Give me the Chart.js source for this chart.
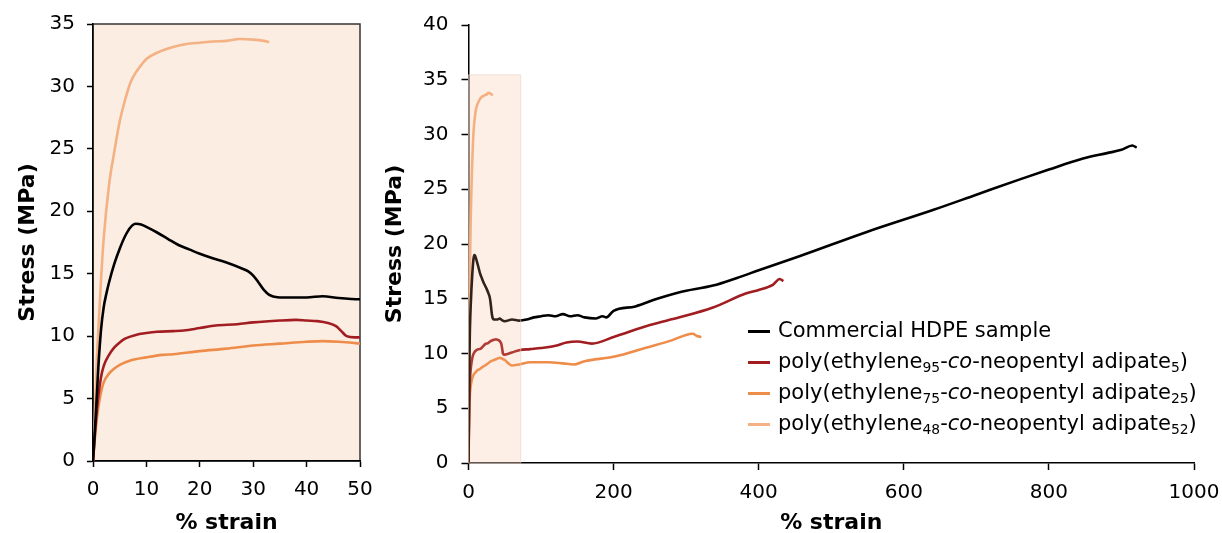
<!DOCTYPE html>
<html>
<head>
<meta charset="utf-8">
<script src="https://cdn.jsdelivr.net/npm/chart.js@4.4.1/dist/chart.umd.min.js"></script>
<style>
  body { margin: 0; background: #fff; overflow: hidden; }
  #leftBox { position: absolute; left: 0; top: 0; width: 380px; height: 536px; }
  #rightBox { position: absolute; left: 380px; top: 0; width: 842px; height: 536px; }
  #legend { position: absolute; left: 748px; top: 315px; font-family: "DejaVu Sans"; font-size: 21px; color: #000; line-height: 31px; }
  #legend .row { white-space: nowrap; }
  #legend .swatch { display: inline-block; width: 22px; height: 3px; vertical-align: middle; margin-right: 8px; }
  #legend sub { font-size: 0.66em; vertical-align: -0.3em; line-height: 0; }
</style>
</head>
<body>
<div id="leftBox"><canvas id="zoomChart"></canvas></div>
<div id="rightBox"><canvas id="fullChart"></canvas></div>
<div id="legend"></div>
<script>
// Stress-strain data (strain in %, stress in MPa)
const hdpeStrain = [0,0.5,1,1.5,2,2.5,3,4,5,6,7,8,9,10,12,14,16,18,20,22,25,28,29,30,31,32,33,34,35,38,40,43,46,50,60,70,80,90,100,110,120,130,140,150,160,175,185,190,200,230,260,291,337,370,400,457,549,640,700,760,800,847,880,900,915,921];
const hdpeStress = [0,3.5,7.5,10.5,12.3,13.4,14.3,15.8,17.0,18.0,18.7,19.0,18.95,18.75,18.3,17.8,17.3,16.95,16.6,16.3,15.9,15.4,15.2,14.85,14.3,13.7,13.3,13.15,13.1,13.1,13.1,13.2,13.05,12.95,13.1,13.0,13.1,13.3,13.4,13.5,13.4,13.6,13.4,13.5,13.3,13.2,13.4,13.3,13.9,14.3,15.0,15.6,16.2,16.9,17.6,18.9,21.1,23.1,24.5,25.9,26.8,27.8,28.3,28.6,29.0,28.8];

const pe95Strain = [0,0.5,1,1.5,2,3,4,5,6,8,10,12,15,17,20,23,27,30,35,38,40,42,44,45.5,46.5,47.5,49,50,60,70,85,100,120,135,150,170,200,250,291,337,383,400,420,429,434];
const pe95Stress = [0,3,5.2,6.7,7.6,8.5,9.1,9.5,9.8,10.1,10.25,10.35,10.4,10.45,10.65,10.85,10.95,11.1,11.25,11.3,11.25,11.2,11.05,10.8,10.4,10.0,9.9,9.9,10.1,10.3,10.4,10.5,10.7,11.0,11.1,10.9,11.5,12.6,13.3,14.2,15.5,15.8,16.3,16.8,16.6];

const pe75Strain = [0,0.5,1,1.5,2,3,4,5,7,10,13,15,20,25,30,35,40,43,46,50,55,60,70,85,110,130,145,160,200,246,280,300,309,315,321];
const pe75Stress = [0,2.5,4.3,5.5,6.3,7.0,7.4,7.7,8.05,8.3,8.5,8.55,8.8,9.0,9.25,9.4,9.55,9.6,9.55,9.4,9.1,8.9,9.0,9.2,9.2,9.1,9.0,9.3,9.7,10.55,11.2,11.7,11.8,11.6,11.5];

const pe48Strain = [0,0.3,0.6,1,1.5,2,3,4,5,6,7,8,9,10,12,15,17.5,20,22.5,25,27.5,30,32,33];
const pe48Stress = [0,3,6.9,10.5,14.5,17.8,22.1,24.8,27.2,28.9,30.3,31.1,31.7,32.2,32.7,33.15,33.4,33.5,33.6,33.65,33.8,33.75,33.65,33.55];

// copolymer compositions (mol %) for the legend
const ethyleneMol = [95, 75, 48];
const adipateMol = [5, 25, 52];

const seriesColors = ['#000000', '#A11D21', '#EE8C4A', '#F4B183'];

// region of the full plot that is blown up on the left
const zoomMaxStrain = 50;
const shadeMaxStrain = 72;
const shadeMaxStress = 35.45;

function toPoints(xs, ys) {
  return xs.map((x, i) => ({ x: x, y: ys[i] }));
}

const labels = ['Commercial HDPE sample'].concat(ethyleneMol.map((e, i) =>
  'poly(ethylene' + e + '-co-neopentyl adipate' + adipateMol[i] + ')'));

function makeDatasets() {
  const pts = [
    toPoints(hdpeStrain, hdpeStress),
    toPoints(pe95Strain, pe95Stress),
    toPoints(pe75Strain, pe75Stress),
    toPoints(pe48Strain, pe48Stress)
  ];
  return pts.map((p, i) => ({
    label: labels[i],
    data: p,
    borderColor: seriesColors[i],
    borderWidth: 2.6,
    pointRadius: 0,
    fill: false,
    cubicInterpolationMode: 'monotone'
  }));
}

const tickFont = { family: 'DejaVu Sans', size: 20 };
const titleFont = { family: 'DejaVu Sans', size: 22, weight: 'bold' };

// left: pink plot area with a thin frame
const zoomBg = {
  id: 'zoomBg',
  beforeDraw: (chart) => {
    const { ctx, chartArea: a } = chart;
    ctx.save();
    ctx.fillStyle = '#FCEDE3';
    ctx.fillRect(a.left, a.top, a.right - a.left, a.bottom - a.top);
    ctx.strokeStyle = '#333';
    ctx.lineWidth = 1.5;
    ctx.strokeRect(a.left, a.top, a.right - a.left, a.bottom - a.top);
    ctx.restore();
  }
};

// right: translucent box showing the zoomed region
const zoomBox = {
  id: 'zoomBox',
  afterDatasetsDraw: (chart) => {
    const { ctx } = chart;
    const xs = chart.scales.x, ys = chart.scales.y;
    const x0 = xs.getPixelForValue(0), x1 = xs.getPixelForValue(shadeMaxStrain);
    const y0 = ys.getPixelForValue(shadeMaxStress), y1 = ys.getPixelForValue(0);
    ctx.save();
    ctx.fillStyle = 'rgba(244,177,131,0.2)';
    ctx.fillRect(x0, y0, x1 - x0, y1 - y0);
    ctx.strokeStyle = 'rgba(230,210,198,0.6)';
    ctx.lineWidth = 1;
    ctx.strokeRect(x0, y0, x1 - x0, y1 - y0);
    ctx.restore();
  }
};

function axisX(max, step, tickLen, height) {
  return {
    type: 'linear', min: 0, max: max,
    ticks: { stepSize: step, color: '#000', font: tickFont, padding: 11, maxRotation: 0, callback: (v) => String(v) },
    grid: { drawOnChartArea: false, drawTicks: true, tickLength: tickLen, tickColor: '#000', tickWidth: 1.5 },
    border: { color: '#000', width: 1.5 },
    title: { display: true, text: '% strain', color: '#000', font: titleFont, padding: { top: 0, bottom: 0 } },
    afterFit: (scale) => {
      scale.height = height;
      // end labels may hang past the plot; the layout padding leaves room
      scale.paddingLeft = 0;
      scale.paddingRight = 0;
    }
  };
}

function axisY(max, tickLen, width, titlePad, labelPad) {
  return {
    type: 'linear', min: 0, max: max,
    ticks: { stepSize: 5, color: '#000', font: tickFont, padding: labelPad, callback: (v) => String(v) },
    grid: { drawOnChartArea: false, drawTicks: true, tickLength: tickLen, tickColor: '#000', tickWidth: 1.5 },
    border: { color: '#000', width: 1.5 },
    title: { display: true, text: 'Stress (MPa)', color: '#000', font: titleFont, padding: { top: titlePad, bottom: 0 } },
    afterFit: (scale) => { scale.width = width; }
  };
}

const zoomCtx = document.getElementById('zoomChart').getContext('2d');
new Chart(zoomCtx, {
  type: 'line',
  data: { datasets: makeDatasets() },
  options: {
    responsive: true,
    maintainAspectRatio: false,
    animation: false,
    layout: { padding: { left: 0, top: 23, right: 20, bottom: 0 } },
    plugins: { legend: { display: false }, tooltip: { enabled: false } },
    scales: {
      x: axisX(zoomMaxStrain, 10, 6, 75),
      y: axisY(35, 6, 93, 15, 12)
    }
  },
  plugins: [zoomBg]
});

const fullCtx = document.getElementById('fullChart').getContext('2d');
new Chart(fullCtx, {
  type: 'line',
  data: { datasets: makeDatasets() },
  options: {
    responsive: true,
    maintainAspectRatio: false,
    animation: false,
    layout: { padding: { left: 0, top: 21.7, right: 28, bottom: 0 } },
    plugins: { legend: { display: false }, tooltip: { enabled: false } },
    scales: {
      x: axisX(1000, 200, 7, 73),
      y: axisY(40, 7, 88.5, 2, 13)
    }
  },
  plugins: [zoomBox]
});

// legend with subscripts and italic "co"
const legendEl = document.getElementById('legend');
let legendHtml = '<div class="row"><span class="swatch" style="background:' + seriesColors[0] + '"></span>' + labels[0] + '</div>';
ethyleneMol.forEach((e, i) => {
  legendHtml += '<div class="row"><span class="swatch" style="background:' + seriesColors[i + 1] + '"></span>' +
    'poly(ethylene<sub>' + e + '</sub>-<i>co</i>-neopentyl adipate<sub>' + adipateMol[i] + '</sub>)</div>';
});
legendEl.innerHTML = legendHtml;
</script>
</body>
</html>
